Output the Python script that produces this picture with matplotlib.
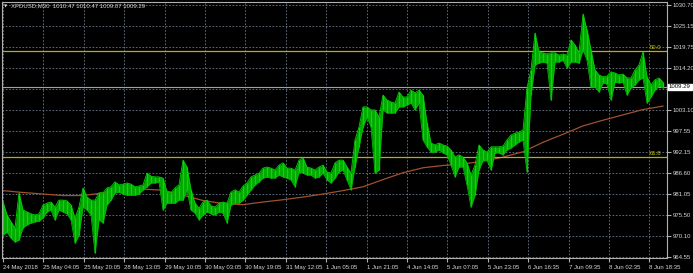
import numpy as np
from matplotlib import pyplot as plt

# XPDUSD M30, one entry per ~3 bars (high / low of the group)
highs = [979.0, 975.6, 973.8, 972.2, 981.4, 976.9, 976.4, 975.9, 975.6, 975.9,
         978.2, 978.7, 979.0, 977.7, 979.5, 979.5, 979.3, 978.2, 974.8, 977.7,
         982.7, 980.3, 979.5, 979.5, 981.4, 981.4, 982.7, 983.0, 984.3, 983.5,
         983.7, 984.0, 983.7, 983.0, 983.2, 983.5, 986.6, 985.8, 985.6, 985.6,
         985.3, 981.6, 981.4, 982.7, 983.5, 990.0, 988.2, 982.2, 978.7, 977.4,
         979.0, 979.5, 978.0, 977.7, 978.7, 979.0, 978.7, 981.6, 982.2, 981.6,
         983.2, 984.0, 985.6, 986.1, 986.6, 987.9, 988.2, 987.9, 987.4, 988.7,
         989.3, 987.9, 987.9, 987.4, 990.0, 990.6, 988.2, 987.9, 987.4, 988.2,
         988.7, 986.9, 986.6, 989.3, 990.0, 990.0, 988.2, 986.6, 995.3, 998.7,
         1004.0, 1004.0, 1003.2, 1003.2, 1001.3, 1007.1, 1005.8, 1005.3, 1005.0, 1007.9,
         1006.6, 1006.6, 1008.4, 1007.7, 1008.4, 1007.1, 999.8, 994.5, 994.0, 994.5,
         994.0, 993.7, 992.7, 990.8, 991.4, 990.8, 989.3, 986.1, 988.7, 994.0,
         992.7, 992.1, 993.5, 993.5, 993.5, 993.7, 995.3, 996.6, 997.1, 997.4,
         997.9, 1009.0, 1013.7, 1023.4, 1018.4, 1018.2, 1017.9, 1018.2, 1018.2, 1017.6,
         1017.9, 1017.6, 1021.6, 1020.3, 1018.2, 1028.4, 1024.2, 1019.0, 1013.7, 1012.4,
         1011.9, 1012.1, 1013.2, 1012.9, 1012.4, 1012.6, 1011.6, 1011.6, 1013.7, 1015.0,
         1018.4, 1011.9, 1009.8, 1011.1, 1011.6, 1010.5]
lows = [970.3, 971.1, 969.5, 968.5, 969.0, 972.2, 973.0, 973.5, 973.8, 974.0,
        974.8, 976.4, 976.9, 974.3, 976.9, 976.4, 975.9, 974.3, 968.2, 970.3,
        977.7, 976.9, 975.6, 965.6, 974.3, 973.5, 978.2, 979.5, 981.4, 981.6,
        981.1, 980.8, 980.8, 980.8, 981.1, 982.2, 983.0, 984.0, 984.0, 984.3,
        976.9, 978.7, 978.7, 978.7, 979.5, 979.5, 982.2, 976.9, 976.1, 974.3,
        975.6, 976.4, 975.9, 975.6, 976.4, 976.1, 973.5, 978.2, 978.7, 978.7,
        979.5, 980.8, 982.2, 983.5, 984.3, 985.3, 985.6, 985.3, 985.3, 986.1,
        985.6, 985.3, 984.8, 983.0, 986.9, 986.6, 986.1, 986.1, 985.3, 985.6,
        986.6, 984.8, 984.0, 985.3, 986.9, 987.4, 984.8, 982.2, 988.2, 993.5,
        998.7, 1001.3, 998.7, 986.6, 987.4, 1003.2, 1002.4, 1002.4, 1002.4, 1004.0,
        1004.0, 1004.5, 1005.0, 1003.2, 1005.0, 995.3, 993.5, 992.1, 992.1, 992.7,
        991.9, 991.4, 988.7, 985.6, 988.2, 988.2, 983.5, 977.7, 980.8, 987.4,
        990.0, 990.0, 987.4, 991.9, 991.9, 991.4, 992.7, 993.2, 994.0, 994.8,
        995.3, 986.9, 1007.1, 1015.0, 1015.5, 1015.8, 1015.5, 1005.8, 1015.8, 1015.8,
        1016.3, 1014.2, 1015.8, 1015.8, 1015.5, 1019.0, 1016.3, 1009.2, 1009.2, 1007.9,
        1010.3, 1010.0, 1005.8, 1010.5, 1010.3, 1010.5, 1007.1, 1009.0, 1009.8, 1011.1,
        1011.6, 1005.0, 1006.6, 1008.4, 1009.5, 1009.0]

# moving average, one value per 5 groups
ma = [982.0, 981.5, 981.1, 980.7, 980.7, 981.4, 982.2, 982.4, 982.1, 980.8,
      979.4, 978.6, 978.3, 979.0, 979.6, 980.3, 981.1, 982.0, 983.0, 984.9,
      986.7, 988.0, 988.6, 989.0, 989.7, 990.8, 992.2, 994.7, 996.8, 999.0,
      1000.5, 1001.9, 1003.3, 1004.2]

time_labels = ["24 May 2018", "25 May 04:05", "25 May 20:05", "28 May 13:05",
               "29 May 10:05", "30 May 03:05", "30 May 19:05", "31 May 12:05",
               "1 Jun 05:05", "1 Jun 21:05", "4 Jun 14:05", "5 Jun 07:05",
               "5 Jun 23:05", "6 Jun 16:35", "7 Jun 09:35", "8 Jun 02:35",
               "8 Jun 18:35"]
price_ticks = [1030.70, 1025.15, 1019.75, 1014.20, 1008.65, 1003.10, 997.55,
               992.15, 986.60, 981.05, 975.50, 970.10, 964.55]
fib50 = 1018.7
fib618 = 990.9
bid = 1009.29
header = "XPDUSD,M30  1010.47 1010.47 1009.07 1009.29"

font = ['Liberation Sans', 'DejaVu Sans']
fs = 4.3
txt = '#d8d8d8'
gridc = '#6c7a88'

fig = plt.figure(figsize=(6.93, 2.73), dpi=100, facecolor='black')
ax = fig.add_axes([2/693, 15/273, 665/693, 256/273])
ax.set_facecolor('black')

x = np.arange(len(highs))
ax.fill_between(x, lows, highs, color='#00a800', lw=0, zorder=3)
ax.vlines(x, lows, highs, color='#00e000', lw=0.9, zorder=4)
ax.plot(x, highs, color='#00d400', lw=0.6, zorder=4)
ax.plot(x, lows, color='#00c000', lw=0.6, zorder=4)

ma_x = np.arange(len(ma)) * 5
ax.plot(ma_x, ma, color='#a0522d', lw=0.9, zorder=2)

ax.axhline(fib50, color='#b4b400', lw=0.9, zorder=2)
ax.axhline(fib618, color='#b4b400', lw=0.9, zorder=2)
ax.axhline(bid, color='#9aa4b0', lw=0.8, zorder=2)
ax.text(164.5, fib50 + 0.3, "50.0", color='#c8c800', fontsize=fs, family=font,
        ha='right', va='bottom')
ax.text(164.5, fib618 + 0.3, "61.8", color='#c8c800', fontsize=fs, family=font,
        ha='right', va='bottom')

ax.set_xlim(-0.25, 166)
ax.set_ylim(964.29, 1031.56)

tick_pos = np.arange(len(time_labels)) * 10.1
ax.set_xticks(tick_pos)
ax.set_xticklabels(time_labels, fontsize=fs, family=font, color=txt, ha='left')
ax.yaxis.tick_right()
ax.set_yticks(price_ticks)
ax.set_yticklabels([f"{v:.2f}" if abs(v - 1008.65) > 0.01 else "" for v in price_ticks],
                   fontsize=fs, family=font, color=txt)
ax.tick_params(axis='both', direction='out', length=3, color='#b0b0b0', pad=1)
ax.tick_params(axis='x', pad=2)

ax.grid(True, color=gridc, linestyle=(0, (2, 2)), linewidth=0.6)
ax.set_axisbelow(True)
for s in ax.spines.values():
    s.set_color('#b0b0b0')
    s.set_linewidth(0.8)

ax.text(1.003, bid, f"{bid:.2f}", transform=ax.get_yaxis_transform(),
        fontsize=fs, family=font, color='black', va='center', ha='left',
        bbox=dict(facecolor='white', edgecolor='white', pad=0.5))

fig.text(4/693, 1 - 6/273, "▼", fontsize=3, color=txt, family=['DejaVu Sans'],
         va='center', ha='left')
fig.text(11/693, 1 - 6/273, header, fontsize=fs, family=font, color=txt,
         va='center', ha='left')

fig.savefig("out.png", dpi=100, facecolor='black')
